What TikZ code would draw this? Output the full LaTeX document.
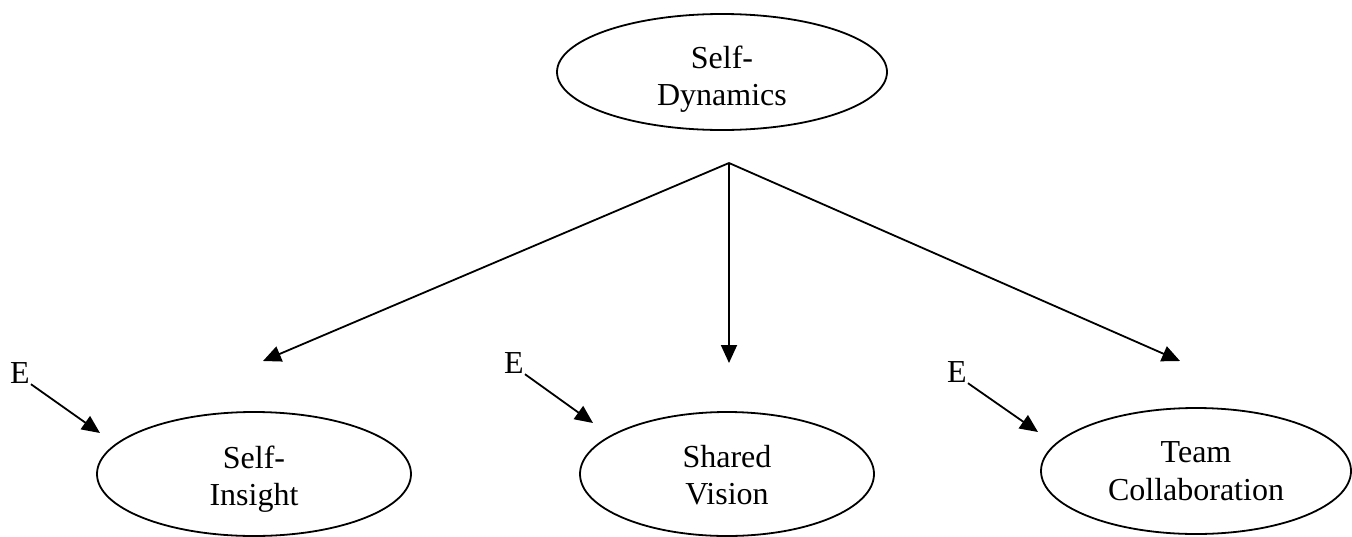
\documentclass[tikz,border=0pt]{standalone}
\usepackage{fontspec}
\setmainfont{Liberation Serif}
\usetikzlibrary{shapes.geometric,arrows.meta}
\begin{document}
\begin{tikzpicture}[x=1pt,y=-1pt,
  oval/.style={draw,ellipse,line width=1.8pt,inner sep=0pt},
  lbl/.style={align=center,inner sep=0pt,font=\fontsize{32}{37.5}\selectfont},
  elbl/.style={inner sep=1pt,font=\fontsize{32}{37.5}\selectfont},
  arr/.style={line width=1.8pt,-{Triangle[length=18pt,width=16pt]}}]
\useasboundingbox (0,0) rectangle (1352,536);
% ellipses
\node[oval,minimum width=330pt,minimum height=116pt] (sd) at (722,72) {};
\node[lbl] (sdt) at (722,79) {Self-\\Dynamics};
\node[oval,minimum width=314pt,minimum height=124pt] (si) at (254,474) {};
\node[lbl] (sit) at (254,479) {Self-\\Insight};
\node[oval,minimum width=294pt,minimum height=124pt] (sv) at (727,474) {};
\node[lbl] (svt) at (727,475) {Shared\\Vision};
\node[oval,minimum width=310pt,minimum height=126pt] (tc) at (1196,471) {};
\node[lbl] (tct) at (1196,471) {Team\\Collaboration};
% branch
\coordinate (br) at (729,163);
\coordinate (tl) at (263,361);
\coordinate (tm) at (729,363);
\coordinate (tr) at (1180,361);
\draw[arr] (br) -- (tl);
\draw[arr] (br) -- (tm);
\draw[arr] (br) -- (tr);
% E labels
\node[elbl,anchor=base] (e1) at (20,383) {E};
\node[elbl,anchor=base] (e2) at (514,373) {E};
\node[elbl,anchor=base] (e3) at (957,382) {E};
\coordinate (t1) at (100,433);
\coordinate (t2) at (593,423);
\coordinate (t3) at (1038,432);
\draw[arr] (e1.south east) -- (t1);
\draw[arr] (e2.south east) -- (t2);
\draw[arr] (e3.south east) -- (t3);
\end{tikzpicture}
\end{document}
